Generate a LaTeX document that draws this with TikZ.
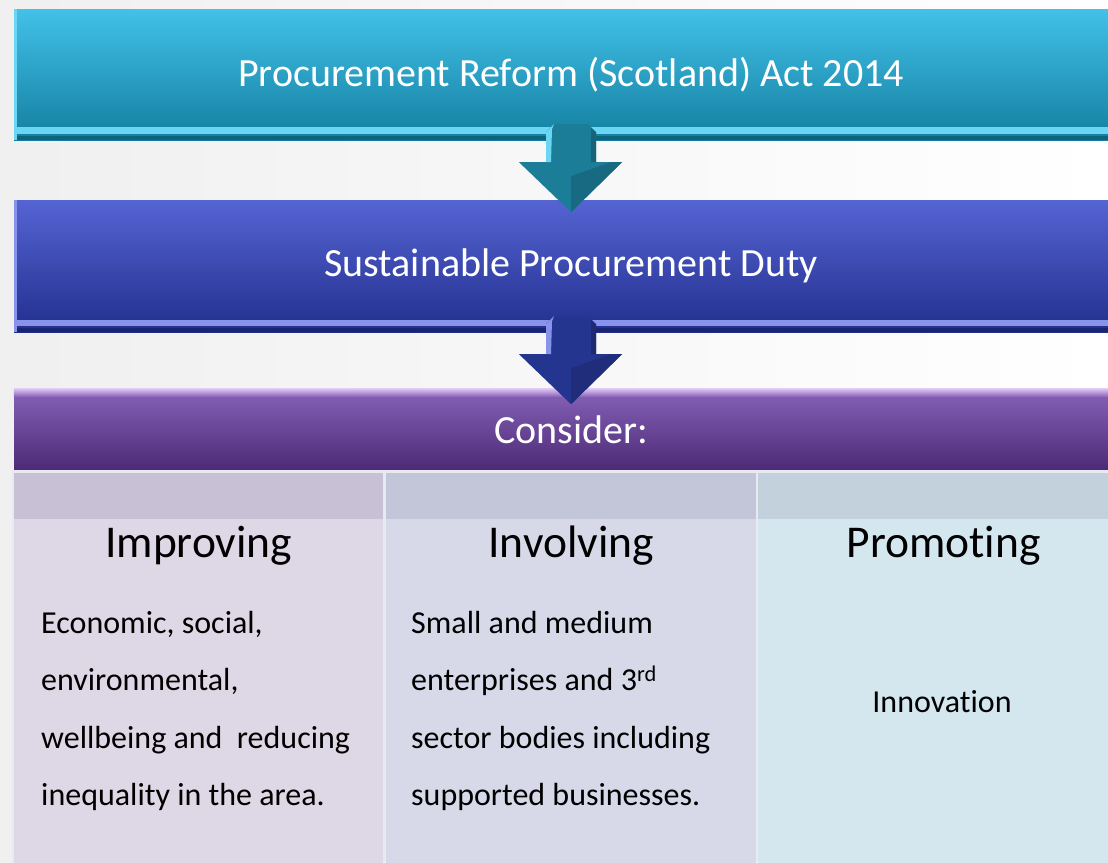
\documentclass[tikz,border=0pt]{standalone}
\usepackage{fontspec}
\setmainfont{Carlito}[Ligatures=CommonOff]
\usetikzlibrary{positioning,calc}

\begin{document}
\begin{tikzpicture}[x=1pt,y=-1pt]
	\definecolor{actTop}{HTML}{42C1E9}
	\definecolor{actBot}{HTML}{137F9F}
	\definecolor{actLight}{HTML}{6AD6F3}
	\definecolor{actDark}{HTML}{0E6480}
	\definecolor{actArrow}{HTML}{1B7D98}
	\definecolor{dutyTop}{HTML}{5564D3}
	\definecolor{dutyBot}{HTML}{222F8E}
	\definecolor{dutyLight}{HTML}{8894EC}
	\definecolor{dutyDark}{HTML}{1A2570}
	\definecolor{dutyArrow}{HTML}{243590}
	\definecolor{consTop}{HTML}{8762B8}
	\definecolor{consBot}{HTML}{4C2A76}
	\definecolor{consLight}{HTML}{DCC2F4}
	\definecolor{impBand}{HTML}{C8C0D4}
	\definecolor{impBody}{HTML}{DED7E5}
	\definecolor{invBand}{HTML}{C3C5D9}
	\definecolor{invBody}{HTML}{D7D9E8}
	\definecolor{proBand}{HTML}{C3D1DC}
	\definecolor{proBody}{HTML}{D4E7EF}
	\definecolor{colGap}{HTML}{E9E9F2}
	\tikzset{
		banner/.style={
			rectangle,
			minimum width=1114pt,
			inner sep=0pt,
			text=white,
			font=\fontsize{40}{48}\selectfont
		},
		column/.style={
			rectangle,
			anchor=north west,
			minimum height=410pt,
			inner sep=0pt
		},
		colhead/.style={
			anchor=base,
			inner sep=0pt,
			font=\fontsize{45.5}{52}\selectfont
		},
		coltext/.style={
			anchor=north west,
			align=left,
			inner sep=0pt,
			font=\fontsize{32}{57.5}\selectfont
		},
		pics/downblock/.style 2 args={
			code={
				\fill[#1] (-25,-8) -- (-17,-16) -- (17,-16) -- (25,-8) -- (25,22)
					-- (51,22) -- (0,72) -- (-52,22) -- (-25,22) -- cycle;
				\fill[#2] (-25,-8) -- (-17,-16) -- (-19,-11) -- (-20,22) -- (-25,22) -- cycle;
				\fill[#1!80!black] (20,-12) -- (25,-8) -- (25,22) -- (20,22) -- cycle;
				\fill[#1!85!black] (0,36) -- (40,22) -- (51,22) -- (0,72) -- cycle;
			}
		}
	}

	\useasboundingbox (0,0) rectangle (1108,862);
	\clip (0,0) rectangle (1108,862);
	\fill[left color=gray!12, right color=white] (0,0) rectangle (1108,862);

	% ======= Banners =======
	\node[banner, minimum height=131pt, top color=actTop, bottom color=actBot]
		(act) at (571,74.5) {Procurement Reform (Scotland) Act 2014};
	\fill[actLight] ([yshift=13pt]act.south west) rectangle ([yshift=6pt]act.south east);
	\fill[actDark] ([yshift=4pt]act.south west) rectangle (act.south east);
	\fill[actLight] (act.north west) rectangle ([xshift=3pt]act.south west);

	\node[banner, minimum height=132pt, top color=dutyTop, bottom color=dutyBot]
		(duty) at (571,266) {Sustainable Procurement Duty};
	\fill[dutyLight] ([yshift=12pt]duty.south west) rectangle ([yshift=6pt]duty.south east);
	\fill[dutyDark] ([yshift=4pt]duty.south west) rectangle (duty.south east);
	\fill[dutyLight] (duty.north west) rectangle ([xshift=3pt]duty.south west);

	\node[banner, minimum height=81pt, top color=consTop, bottom color=consBot]
		(cons) at (571,429.5) {Consider:};
	\fill[top color=consLight, bottom color=consTop] (cons.north west) rectangle ([yshift=-8pt]cons.north east);

	% ======= Block arrows =======
	\pic at (act.south) {downblock={actArrow}{actLight}};
	\pic at (duty.south) {downblock={dutyArrow}{dutyLight}};

	% ======= Columns =======
	\fill[colGap] (12,470) rectangle (1108,862);
	\node[column, minimum width=369pt, fill=impBody] (imp) at (14,473) {};
	\node[column, minimum width=370pt, fill=invBody] (inv) at (386,473) {};
	\node[column, minimum width=371pt, fill=proBody] (pro) at (758,473) {};
	\fill[impBand] (imp.north west) rectangle ([yshift=-46pt]imp.north east);
	\fill[invBand] (inv.north west) rectangle ([yshift=-46pt]inv.north east);
	\fill[proBand] (pro.north west) rectangle ([yshift=-46pt]pro.north east);

	\node[colhead] (imphead) at ([yshift=-84pt]imp.north) {Improving};
	\node[colhead] (invhead) at ([yshift=-84pt]inv.north) {Involving};
	\node[colhead] (prohead) at ([yshift=-84pt]pro.north) {Promoting};

	\node[coltext] (imptext) at (41,611) {Economic, social,\\environmental,\\wellbeing and~ reducing\\inequality in the area.};
	\node[coltext] (invtext) at (411,611) {Small and medium\\enterprises and 3\textsuperscript{rd}\\sector bodies including\\supported businesses.};
	\node[font=\fontsize{32}{38}\selectfont] (protext) at (942,702) {Innovation};
\end{tikzpicture}
\end{document}
